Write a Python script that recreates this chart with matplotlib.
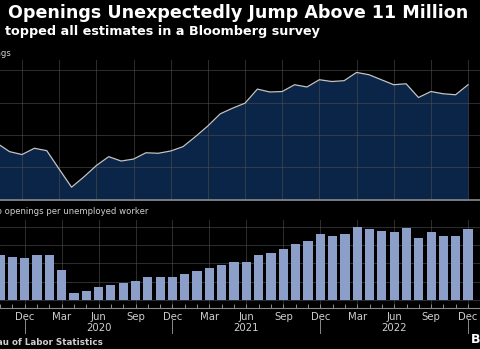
import matplotlib.pyplot as plt
from matplotlib import transforms

W, H = 480, 349

# monthly, Oct 2019 .. Dec 2022
months = ["Oct", "Nov", "Dec",
          "Jan", "Feb", "Mar", "Apr", "May", "Jun", "Jul", "Aug", "Sep", "Oct", "Nov", "Dec",
          "Jan", "Feb", "Mar", "Apr", "May", "Jun", "Jul", "Aug", "Sep", "Oct", "Nov", "Dec",
          "Jan", "Feb", "Mar", "Apr", "May", "Jun", "Jul", "Aug", "Sep", "Oct", "Nov", "Dec"]
openings = [7.47, 6.96, 6.78,
            7.17, 7.02, 5.88, 4.76, 5.40, 6.10, 6.65, 6.38, 6.50, 6.89, 6.86, 7.00,
            7.27, 7.89, 8.55, 9.30, 9.65, 9.96, 10.83, 10.65, 10.68, 11.10, 10.96, 11.41,
            11.30, 11.35, 11.86, 11.72, 11.41, 11.10, 11.16, 10.31, 10.68, 10.54, 10.48, 11.10]
ratio = [1.23, 1.17, 1.15,
         1.23, 1.23, 0.82, 0.20, 0.25, 0.35, 0.41, 0.47, 0.52, 0.62, 0.64, 0.64,
         0.71, 0.79, 0.88, 0.96, 1.03, 1.04, 1.23, 1.28, 1.39, 1.52, 1.62, 1.82,
         1.74, 1.82, 1.99, 1.95, 1.89, 1.86, 1.96, 1.71, 1.86, 1.74, 1.75, 1.94]
years = ["2020", "2021", "2022"]

x = list(range(len(months)))
quarter_idx = [i for i, m in enumerate(months) if m in ("Dec", "Mar", "Jun", "Sep")]
dec_idx = [i for i, m in enumerate(months) if m == "Dec"]
jun_idx = [i for i, m in enumerate(months) if m == "Jun"]

BG = "#000000"
FILL = "#0b2549"
LINE = "#c4c4c4"
BAR = "#8b9fc9"
GRID = "#4d4d4d"
TXT = "#cfcfcf"

# pixel geometry: Dec 2019 at 22px, 12.39 px per month
px_per_m = 12.39
x0 = 2 - 22 / px_per_m
x1 = x0 + W / px_per_m


def fy(py):
    return 1 - py / H


fig = plt.figure(figsize=(W / 100, H / 100), dpi=100, facecolor=BG)

# --- top: job openings ---
ax1 = fig.add_axes([0, fy(199.5), 1, fy(60) - fy(199.5)], facecolor=BG)
ax1.fill_between(x, openings, 0, color=FILL, lw=0, zorder=1)
ax1.plot(x, openings, color=LINE, lw=0.9, zorder=3)
ax1.set_xlim(x0, x1)
ax1.set_ylim(4, 12.63)
ax1.set_yticks([6, 8, 10, 12])
ax1.set_xticks(quarter_idx)
ax1.grid(True, color=GRID, lw=0.7, alpha=0.6, zorder=2)
ax1.set_axisbelow(False)
ax1.tick_params(length=0, labelbottom=False, labelleft=False)
for s in ["top", "left", "right"]:
    ax1.spines[s].set_visible(False)
ax1.spines["bottom"].set_color("#8a8a8a")
ax1.spines["bottom"].set_linewidth(1.2)
ax1.spines["bottom"].set_zorder(4)

# --- bottom: openings per unemployed ---
ax2 = fig.add_axes([0, fy(307.7), 1, fy(220) - fy(307.7)], facecolor=BG)
ax2.bar(x, ratio, width=0.75, color=BAR, lw=0, zorder=3)
ax2.set_xlim(x0, x1)
ax2.set_ylim(-0.211, 2.19)
ax2.set_yticks([0, 0.5, 1.0, 1.5, 2.0])
ax2.set_xticks(quarter_idx)
ax2.set_xticks(x, minor=True)
ax2.set_xticklabels([months[i] for i in quarter_idx])
ax2.grid(True, color=GRID, lw=0.7, alpha=0.6, zorder=1)
ax2.tick_params(axis="y", length=0, labelleft=False)
ax2.tick_params(axis="x", which="both", direction="in", length=3, width=0.7,
                color="#8a8a8a", labelcolor=TXT, labelsize=7.3, pad=3)
for s in ["top", "left", "right"]:
    ax2.spines[s].set_visible(False)
ax2.spines["bottom"].set_color("#8a8a8a")
ax2.spines["bottom"].set_linewidth(0.8)

trans = transforms.blended_transform_factory(ax2.transData, fig.transFigure)
for i, yr in zip(jun_idx, years):
    ax2.text(i, fy(327.7), yr, transform=trans, ha="center", va="center",
             color=TXT, fontsize=7.3)
for i in dec_idx:
    ax2.plot([i, i], [fy(320), fy(333)], transform=trans, color="#8a8a8a",
             lw=0.7, clip_on=False)

# --- texts ---
fig.text(8 / W, fy(13), "Openings Unexpectedly Jump Above 11 Million",
         color="white", fontsize=12.6, fontweight="bold", va="center", ha="left")
fig.text(5 / W, fy(32), "topped all estimates in a Bloomberg survey",
         color="white", fontsize=9.2, fontweight="bold", va="center", ha="left")
fig.text(11 / W, fy(53), "Job openings", color=TXT, fontsize=6.1,
         va="center", ha="right")
fig.text(148 / W, fy(211), "Ratio of job openings per unemployed worker",
         color=TXT, fontsize=6.1, va="center", ha="right")
fig.text(103 / W, fy(342.5), "Source: Bureau of Labor Statistics", color=TXT,
         fontsize=6.3, fontweight="bold", va="center", ha="right")
fig.text(471 / W, fy(340), "Bloomberg", color="white", fontsize=9,
         fontweight="bold", va="center", ha="left")

fig.savefig("out.png", dpi=100, facecolor=BG)
